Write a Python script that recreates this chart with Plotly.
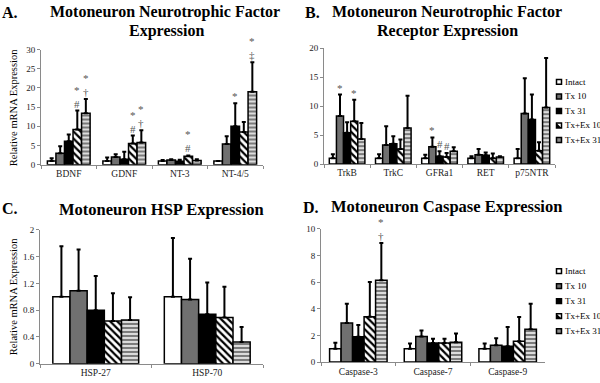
import plotly.graph_objects as go

W, H = 600, 383

series = ["Intact", "Tx 10", "Tx 31", "Tx+Ex 10", "Tx+Ex 31"]

# Panel A: neurotrophic factors
cats_A = ["BDNF", "GDNF", "NT-3", "NT-4/5"]
mean_A = [[1.0, 1.0, 1.0, 1.0],
          [3.0, 2.0, 1.2, 5.4],
          [6.1, 1.4, 0.9, 10.0],
          [9.2, 5.5, 2.2, 8.5],
          [13.4, 5.8, 1.1, 19.0]]
err_A = [[0.7, 0.9, 0.2, 0.0],
         [1.8, 0.7, 0.2, 2.0],
         [1.8, 2.0, 0.4, 6.0],
         [4.9, 2.1, 0.2, 2.6],
         [3.7, 3.2, 0.3, 7.7]]
sig_A = [("BDNF", 3, "*", "#"), ("BDNF", 4, "*", "†"),
         ("GDNF", 3, "*", "#"), ("GDNF", 4, "*", "†"),
         ("NT-3", 3, "*", "#"), ("NT-4/5", 2, "*", ""),
         ("NT-4/5", 4, "*", "‡")]

# Panel B: receptors
cats_B = ["TrkB", "TrkC", "GFRa1", "RET", "p75NTR"]
mean_B = [[1.0, 1.0, 1.0, 1.0, 1.0],
          [8.3, 3.3, 3.0, 1.6, 8.7],
          [5.4, 3.5, 1.35, 1.5, 7.7],
          [7.4, 2.6, 1.2, 1.0, 2.3],
          [4.3, 6.2, 2.2, 1.2, 9.75]]
err_B = [[0.7, 0.7, 0.6, 0.35, 1.6],
         [3.7, 3.2, 1.6, 1.0, 6.1],
         [1.8, 1.3, 0.85, 0.5, 4.3],
         [3.7, 1.65, 0.7, 0.8, 1.45],
         [2.8, 5.6, 0.7, 0.15, 8.55]]
sig_B = [("TrkB", 1, "*", ""), ("TrkB", 3, "*", ""),
         ("GFRa1", 1, "*", ""), ("GFRa1", 2, "", "#"), ("GFRa1", 3, "", "#")]

# Panel C: HSP
cats_C = ["HSP-27", "HSP-70"]
mean_C = [[1.0, 1.0],
          [1.09, 0.96],
          [0.80, 0.74],
          [0.64, 0.69],
          [0.655, 0.325]]
err_C = [[0.757, 0.879],
         [0.619, 0.608],
         [0.51, 0.474],
         [0.413, 0.46],
         [0.34, 0.224]]
sig_C = []

# Panel D: caspases
cats_D = ["Caspase-3", "Caspase-7", "Caspase-9"]
mean_D = [[1.0, 1.0, 1.0],
          [2.93, 1.93, 1.27],
          [1.9, 1.44, 1.2],
          [3.41, 1.44, 1.56],
          [6.15, 1.49, 2.46]]
err_D = [[0.46, 0.39, 0.39],
         [1.46, 0.44, 0.53],
         [0.88, 0.32, 1.43],
         [2.61, 0.32, 1.83],
         [2.8, 0.66, 1.93]]
sig_D = [("Caspase-3", 4, "*", "†")]

ticks_A = [0, 5, 10, 15, 20, 25, 30]
ticks_B = [0, 5, 10, 15, 20]
ticks_C = [0, 0.4, 0.8, 1.2, 1.6, 2]
ticklabels_C = ["0", "0.4", "0.8", "1.2", "1.6", "2"]
ticks_D = [0, 2, 4, 6, 8, 10]

# ---------------- styling ----------------
SERIF = "Liberation Serif"
fills = ["white", "#707070", "black", "white", "#d4d4d4"]
patterns = [None, None, None,
            dict(shape="\\", fgcolor="black", bgcolor="white", size=5, solidity=0.45, fillmode="replace"),
            dict(shape="-", fgcolor="#7a7a7a", bgcolor="#dcdcdc", size=4, solidity=0.5, fillmode="replace")]
BARGAP = 0.23
AXCOL = "#8a8a8a"

# plot rectangles in pixels: (left, right, top, bottom)
rects = {
    "A": (41, 263, 45.7, 164),
    "B": (324, 555, 44.3, 163.3),
    "C": (40, 263, 231, 368.3),
    "D": (321, 545, 230, 366.7),
}

panels = [
    ("A", "x", "y", cats_A, mean_A, err_A, sig_A, ticks_A, None, [0, 30]),
    ("B", "x2", "y2", cats_B, mean_B, err_B, sig_B, ticks_B, None, [0, 20]),
    ("C", "x3", "y3", cats_C, mean_C, err_C, sig_C, ticks_C, ticklabels_C, [0, 2]),
    ("D", "x4", "y4", cats_D, mean_D, err_D, sig_D, ticks_D, None, [0, 10]),
]

fig = go.Figure()
annotations = []
shapes = []

for key, xa, ya, cats, means, errs, sigs, tv, tt, yr in panels:
    for s, name in enumerate(series):
        marker = dict(color=fills[s], line=dict(color="black", width=1.5))
        if patterns[s]:
            marker["pattern"] = patterns[s]
        fig.add_trace(go.Bar(
            x=cats, y=means[s], name=name, xaxis=xa, yaxis=ya,
            marker=marker, showlegend=False,
            error_y=dict(type="data", symmetric=False, array=errs[s],
                         arrayminus=[0] * len(cats), color="black",
                         thickness=2, width=2),
        ))
    l, r, t, b = rects[key]
    cat_px = (r - l) / len(cats)
    bar_px = cat_px * (1 - BARGAP) / len(series)
    for cat, s, top_sym, bot_sym in sigs:
        ci = cats.index(cat)
        top = means[s][ci] + errs[s][ci]
        lines = [sym for sym in (top_sym, bot_sym) if sym]
        annotations.append(dict(
            x=cat, y=top, xref=xa, yref=ya, text="<br>".join(lines),
            showarrow=False, xanchor="center", yanchor="bottom",
            xshift=(s - 2) * bar_px, yshift=-1,
            font=dict(family=SERIF, size=11, color="#555555")))

    suffix = "" if xa == "x" else xa[1:]
    fig.layout["xaxis" + suffix] = dict(
        domain=[l / W, r / W], anchor=ya, type="category",
        showline=True, linecolor=AXCOL, linewidth=1,
        ticks="outside", tickson="boundaries", ticklen=3, tickcolor=AXCOL,
        ticklabelstandoff=0,
        tickfont=dict(family=SERIF, size=9.5, color="#222"),
        showgrid=False, zeroline=False, fixedrange=True)
    ydict = dict(
        domain=[1 - b / H, 1 - t / H], anchor=xa, range=yr,
        showline=True, linecolor=AXCOL, linewidth=1,
        ticks="outside", ticklen=3, tickcolor=AXCOL,
        tickvals=tv, tickfont=dict(family=SERIF, size=9, color="#222"),
        showgrid=False, zeroline=False, fixedrange=True)
    if tt:
        ydict["ticktext"] = tt
    fig.layout["yaxis" + suffix] = ydict


def ptext(text, px, py, size, bold=False, anchor="center", angle=0):
    annotations.append(dict(
        x=px / W, y=1 - py / H, xref="paper", yref="paper",
        text=("<b>" + text + "</b>") if bold else text,
        showarrow=False, xanchor=anchor, yanchor="middle", textangle=angle,
        font=dict(family=SERIF, size=size, color="black")))


# panel letters and titles
ptext("A.", 0, 8, 16, True, "left")
ptext("Motoneuron Neurotrophic Factor", 165, 7.5, 16, True)
ptext("Expression", 166, 26.5, 16, True)
ptext("B.", 303, 8, 16, True, "left")
ptext("Motoneuron Neurotrophic Factor", 447, 7.5, 16, True)
ptext("Receptor Expression", 447, 26.5, 16, True)
ptext("C.", 0, 209, 16, True, "left")
ptext("Motoneuron HSP Expression", 161, 210, 16.5, True)
ptext("D.", 301, 208, 16, True, "left")
ptext("Motoneuron Caspase Expression", 446, 207, 16.5, True)

# y-axis titles
ptext("Relative mRNA Expression", 13, 106, 10.5, False, "center", -90)
ptext("Relative mRNA Expression", 13, 300, 10.5, False, "center", -90)

# manual legends (B and D)
for y0, step in [(79, 14.9), (273.3, 15.4)]:
    for s, name in enumerate(series):
        cy = y0 + s * step
        x0p, x1p = 556.5, 561.5
        shapes.append(dict(type="rect", xref="paper", yref="paper",
                           x0=x0p / W, x1=x1p / W, y0=1 - (cy + 2.5) / H, y1=1 - (cy - 2.5) / H,
                           fillcolor="#8a8a8a" if s == 4 else fills[s],
                           line=dict(color="black", width=1.5)))
        if s == 3:
            shapes.append(dict(type="path", xref="paper", yref="paper",
                               path="M {a},{b} L {c},{b} L {a},{d} Z".format(
                                   a=x0p / W, b=1 - (cy + 2.5) / H, c=x1p / W, d=1 - (cy - 2.5) / H),
                               fillcolor="black", line=dict(width=0)))
        ptext(name, 562.5, cy, 9, False, "left")

fig.update_layout(
    width=W, height=H, autosize=False,
    margin=dict(l=0, r=0, t=0, b=0),
    paper_bgcolor="white", plot_bgcolor="white",
    barmode="group", bargap=BARGAP, bargroupgap=0,
    annotations=annotations, shapes=shapes,
    showlegend=False,
)

fig.write_html("out.html", config={"displayModeBar": False},
               post_script="document.body.style.margin='0';document.body.style.overflow='hidden';")
